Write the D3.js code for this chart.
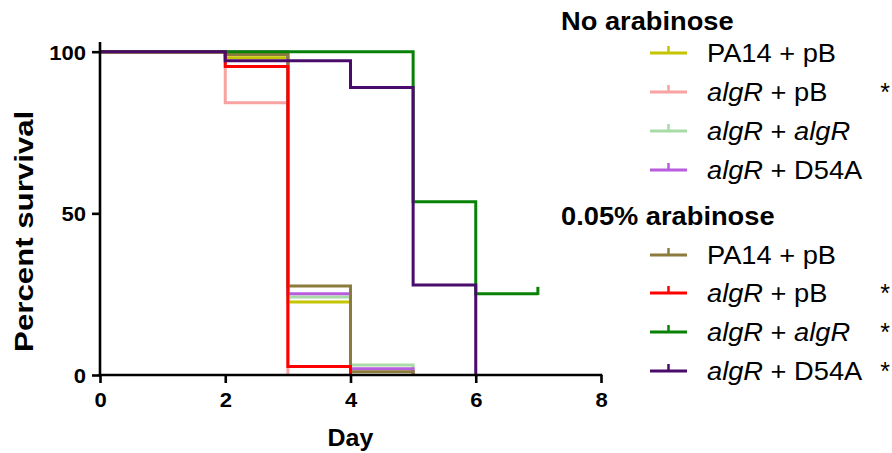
<!DOCTYPE html>
<html>
<head>
<meta charset="utf-8">
<script src="https://cdn.jsdelivr.net/npm/d3@7"></script>
<style>
  html, body { margin: 0; padding: 0; background: #fff; }
  svg { display: block; font-family: "Liberation Sans", Arial, Helvetica, sans-serif; }
</style>
</head>
<body>
<svg id="chart" width="892" height="453"></svg>
<script>
// Kaplan–Meier survival curves, [day, percent surviving]
const pa14NoAra   = [[0, 100], [2, 98.1], [3, 22.6], [4, 0]];
const algRpBNoAra = [[0, 100], [2, 84.2], [3, 0]];
const algRalgRNoAra = [[0, 100], [3, 24.1], [4, 3.1], [5, 0]];
const d54aNoAra   = [[0, 100], [3, 25.1], [4, 1.9], [5, 0]];
const pa14Ara     = [[0, 100], [2, 99.1], [3, 27.5], [4, 1.0], [5, 0]];
const algRpBAra   = [[0, 100], [2, 95.4], [3, 2.6], [4, 0]];
const algRalgRAra = [[0, 100], [5, 53.6], [6, 25.1], [7, 25.1]];
const d54aAra     = [[0, 100], [2, 97.2], [4, 88.9], [5, 27.8], [6, 0]];

// censored observations (day, percent)
const censoredAlgRalgRAra = [[7, 25.1]];

const groupTitles = ["No arabinose", "0.05% arabinose"];
// label pieces: [text, italic]
const labelPA14 = [["PA14 + pB", false]];
const labelAlgRpB = [["algR", true], [" + pB", false]];
const labelAlgRalgR = [["algR", true], [" + ", false], ["algR", true]];
const labelD54A = [["algR", true], [" + D54A", false]];

const seriesColors = ["#c4c400", "#f8a2a2", "#a8dba8", "#b75ddd",
                      "#8b7b3d", "#ff0000", "#078207", "#4a0b6b"];
const significant = [false, true, false, false, false, true, true, true];

const xTicks = [0, 2, 4, 6, 8];
const yTicks = [0, 50, 100];

const series = [
  { group: 0, label: labelPA14,     data: pa14NoAra,     censored: [] },
  { group: 0, label: labelAlgRpB,   data: algRpBNoAra,   censored: [] },
  { group: 0, label: labelAlgRalgR, data: algRalgRNoAra, censored: [] },
  { group: 0, label: labelD54A,     data: d54aNoAra,     censored: [] },
  { group: 1, label: labelPA14,     data: pa14Ara,       censored: [] },
  { group: 1, label: labelAlgRpB,   data: algRpBAra,     censored: [] },
  { group: 1, label: labelAlgRalgR, data: algRalgRAra,   censored: censoredAlgRalgRAra },
  { group: 1, label: labelD54A,     data: d54aAra,       censored: [] }
].map((s, i) => ({ ...s, color: seriesColors[i], star: significant[i] }));

const svg = d3.select("#chart");

const x = d3.scaleLinear().domain([0, 8]).range([100, 601]);
const y = d3.scaleLinear().domain([0, 100]).range([375, 51.7]);

const widen = 1.09; // horizontal text proportion

function stretch(sel, k) {
  sel.each(function () {
    const w = this.getComputedTextLength();
    d3.select(this).attr("textLength", w * k).attr("lengthAdjust", "spacingAndGlyphs");
  });
}

// survival step lines
const line = d3.line()
  .x(d => x(d[0]))
  .y(d => y(d[1]))
  .curve(d3.curveStepAfter);

const plot = svg.append("g");
series.forEach(s => {
  plot.append("path")
    .attr("d", line(s.data))
    .attr("fill", "none")
    .attr("stroke", s.color)
    .attr("stroke-width", 3)
    .attr("stroke-linejoin", "miter");
  plot.selectAll(null)
    .data(s.censored)
    .join("line")
    .attr("x1", d => x(d[0]) - 0.5)
    .attr("x2", d => x(d[0]) - 0.5)
    .attr("y1", d => y(d[1]) + 1)
    .attr("y2", d => y(d[1]) - 7)
    .attr("stroke", s.color)
    .attr("stroke-width", 3);
});

// axes
const xAxis = svg.append("g")
  .attr("transform", `translate(0,${y(0)})`)
  .call(d3.axisBottom(x).tickValues(xTicks).tickSize(8).tickSizeOuter(0).tickPadding(9));
const yAxis = svg.append("g")
  .attr("transform", `translate(${x(0)},0)`)
  .call(d3.axisLeft(y).tickValues(yTicks).tickSize(8).tickSizeOuter(0).tickPadding(6));

[xAxis, yAxis].forEach(a => {
  a.select(".domain").remove();
  a.selectAll(".tick line").attr("stroke", "#000").attr("stroke-width", 2.6);
  a.selectAll(".tick text")
    .attr("fill", "#000")
    .style("font-family", "'Liberation Sans', Arial, sans-serif")
    .style("font-size", "21px")
    .style("font-weight", "bold");
});
xAxis.selectAll(".tick text").attr("dy", "0.72em");
yAxis.selectAll(".tick text").attr("dy", "0.36em");
xAxis.selectAll(".tick text").call(stretch, 1.05);
yAxis.selectAll(".tick text").call(stretch, 1.05);

svg.append("line")
  .attr("x1", x(0) - 1.3).attr("x2", x(8) + 1.3)
  .attr("y1", y(0)).attr("y2", y(0))
  .attr("stroke", "#000").attr("stroke-width", 2.6);
svg.append("line")
  .attr("x1", x(0)).attr("x2", x(0))
  .attr("y1", y(0) + 1.3).attr("y2", y(103))
  .attr("stroke", "#000").attr("stroke-width", 2.6);

// axis titles
svg.append("text")
  .attr("x", x(4)).attr("y", 446)
  .attr("text-anchor", "middle")
  .style("font-size", "24px").style("font-weight", "bold")
  .text("Day")
  .call(stretch, 1.04);

svg.append("text")
  .attr("transform", `translate(33,${(y(0) + y(100)) / 2 + 18}) rotate(-90)`)
  .attr("text-anchor", "middle")
  .style("font-size", "26px").style("font-weight", "bold")
  .text("Percent survival")
  .call(stretch, 1.2);

// legend
const legend = svg.append("g");
const titleY = [30, 225];
const rowY = [[53, 92, 131, 170], [255, 293, 332, 371]];

groupTitles.forEach((t, g) => {
  legend.append("text")
    .attr("x", 561).attr("y", titleY[g])
    .style("font-size", "25px").style("font-weight", "bold")
    .text(t)
    .call(stretch, widen);
});

series.forEach((s, i) => {
  const cy = rowY[s.group][i % 4];
  legend.append("line")
    .attr("x1", 650).attr("x2", 687)
    .attr("y1", cy).attr("y2", cy)
    .attr("stroke", s.color).attr("stroke-width", 3);
  legend.append("line")
    .attr("x1", 668.5).attr("x2", 668.5)
    .attr("y1", cy).attr("y2", cy - 7)
    .attr("stroke", s.color).attr("stroke-width", 2.5);
  const t = legend.append("text")
    .attr("x", 707).attr("y", cy + 9)
    .style("font-size", "25px");
  s.label.forEach(([txt, it]) => {
    t.append("tspan").text(txt).style("font-style", it ? "italic" : "normal");
  });
  t.call(stretch, widen);
  if (s.star) {
    legend.append("text")
      .attr("x", 885).attr("y", cy + 9)
      .attr("text-anchor", "middle")
      .style("font-size", "25px")
      .text("*");
  }
});
</script>
</body>
</html>
